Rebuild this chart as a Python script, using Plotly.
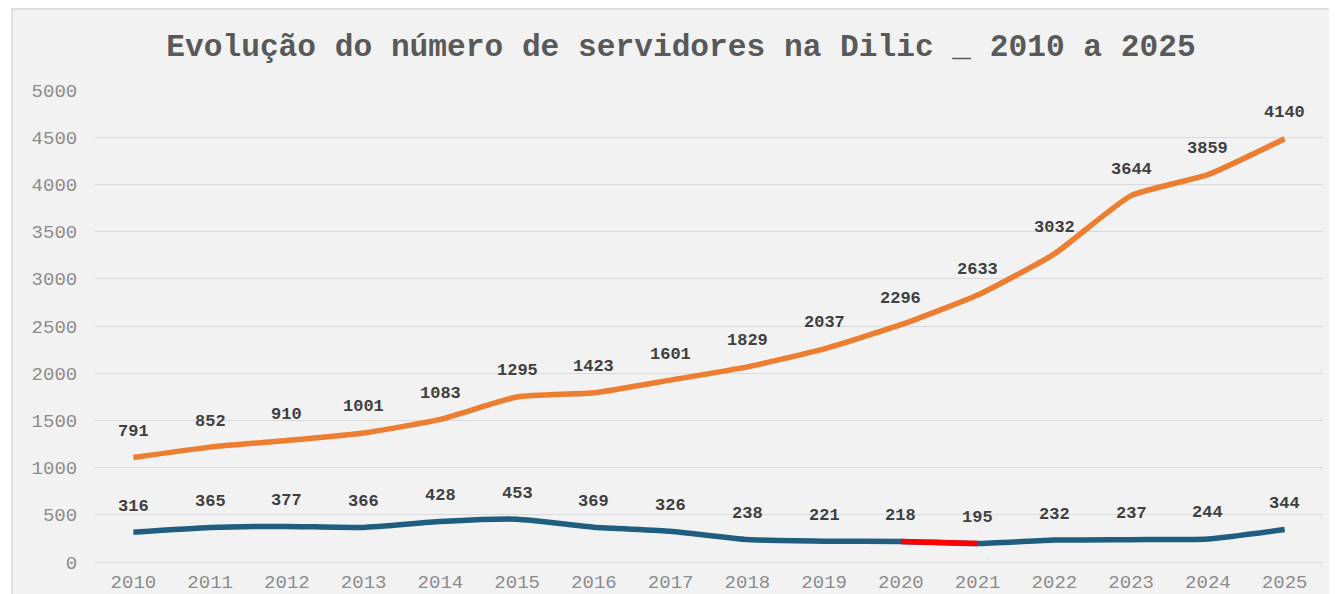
import plotly.graph_objects as go
import numpy as np

years = [str(y) for y in range(2010, 2026)]
blue_vals = [316, 365, 377, 366, 428, 453, 369, 326, 238, 221, 218, 195, 232, 237, 244, 344]
orange_vals = [791, 852, 910, 1001, 1083, 1295, 1423, 1601, 1829, 2037, 2296, 2633, 3032, 3644, 3859, 4140]
highlight_years = ["2020", "2021"]

blue_arr = np.array(blue_vals)
orange_stack = blue_arr + np.array(orange_vals)

MONO = "Courier New, Liberation Mono, monospace"
BLUE = "#1f5e7e"
ORANGE = "#ed7d31"

fig = go.Figure()
fig.add_trace(go.Scatter(x=years, y=orange_stack, mode="lines",
                         line=dict(color=ORANGE, width=5.5, shape="spline", smoothing=0.5),
                         hoverinfo="skip", showlegend=False))
fig.add_trace(go.Scatter(x=years, y=blue_arr, mode="lines",
                         line=dict(color=BLUE, width=5.5, shape="spline", smoothing=0.5),
                         hoverinfo="skip", showlegend=False))
hi_idx = [years.index(y) for y in highlight_years]
fig.add_trace(go.Scatter(x=highlight_years, y=blue_arr[hi_idx], mode="lines",
                         line=dict(color="#ff0000", width=5.5),
                         hoverinfo="skip", showlegend=False))

annotations = []
for i, yr in enumerate(years):
    annotations.append(dict(x=i, y=float(orange_stack[i]), text=str(orange_vals[i]),
                            showarrow=False, yshift=26,
                            font=dict(family=MONO, size=17, color="#404040", weight="bold")))
    annotations.append(dict(x=i, y=float(blue_arr[i]), text=str(blue_vals[i]),
                            showarrow=False, yshift=26,
                            font=dict(family=MONO, size=17, color="#404040", weight="bold")))

fig.update_layout(
    width=1329, height=586,
    margin=dict(l=87, r=14, t=82, b=32),
    paper_bgcolor="white",
    plot_bgcolor="rgba(0,0,0,0)",
    title=dict(text="Evolução do número de servidores na Dilic _ 2010 a 2025",
               x=0.5064, xanchor="center", y=1 - 37 / 586, yanchor="middle",
               font=dict(family=MONO, size=31.2, color="#595959", weight="bold")),
    annotations=annotations,
    shapes=[dict(type="rect", xref="paper", yref="paper", x0=-0.0676, x1=1.05,
                 y0=-0.2, y1=1.172, fillcolor="#f2f2f2",
                 line=dict(color="#d9d9d9", width=1.5), layer="below")],
    xaxis=dict(type="category", range=[-0.5, 15.5], showgrid=False, zeroline=False,
               showline=False, ticks="outside", ticklen=2, tickcolor="rgba(0,0,0,0)",
               automargin=False,
               tickfont=dict(family=MONO, size=19, color="#8c8c8c")),
    yaxis=dict(range=[0, 5000], dtick=500, showgrid=True, gridcolor="#d9d9d9",
               gridwidth=1.2, zeroline=True, zerolinecolor="#d9d9d9", zerolinewidth=1.2,
               ticks="outside", ticklen=13, tickcolor="rgba(0,0,0,0)",
               automargin=False,
               tickfont=dict(family=MONO, size=19, color="#8c8c8c")),
)

fig.write_html("out.html")
